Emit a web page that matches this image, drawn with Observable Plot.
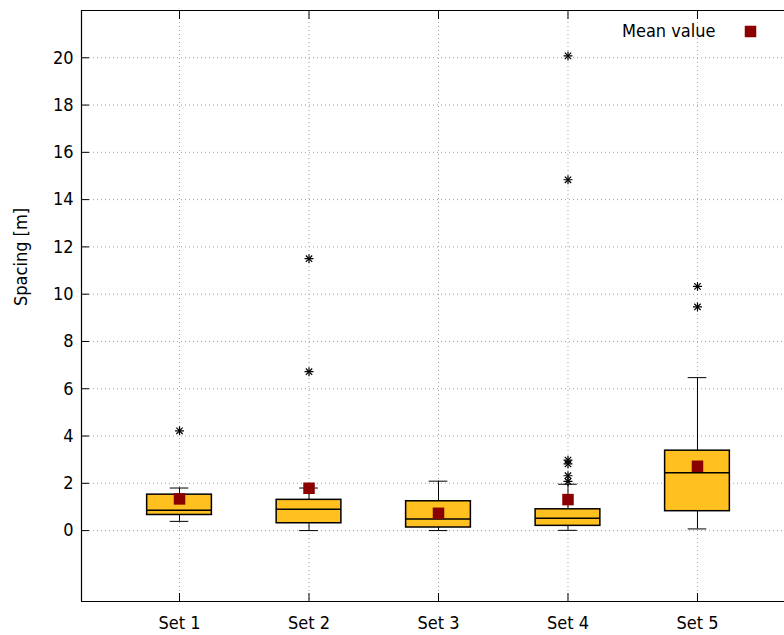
<!DOCTYPE html>
<html>
<head>
<meta charset="utf-8">
<script src="https://cdn.jsdelivr.net/npm/d3@7"></script>
<script src="https://cdn.jsdelivr.net/npm/@observablehq/plot@0.6"></script>
<style>
  html, body { margin: 0; padding: 0; background: #fff; }
  #chart svg { display: block; }
</style>
</head>
<body>
<div id="chart"></div>
<script>
// ---- data ----
const categories = ["Set 1", "Set 2", "Set 3", "Set 4", "Set 5"];
const positions = [1, 2, 3, 4, 5];
const q1 = [0.66, 0.31, 0.13, 0.20, 0.82];
const median = [0.86, 0.90, 0.49, 0.52, 2.45];
const q3 = [1.52, 1.30, 1.24, 0.90, 3.38];
const whiskerLow = [0.39, 0.00, 0.00, 0.01, 0.07];
const whiskerHigh = [1.80, 1.80, 2.09, 1.96, 6.47];
const means = [1.34, 1.79, 0.73, 1.31, 2.72];
const outlierSet = [1, 2, 2, 4, 4, 4, 4, 4, 4, 5, 5];
const outlierValue = [4.22, 11.5, 6.72, 20.08, 14.84, 2.98, 2.82, 2.32, 2.08, 10.33, 9.46];
const yTicks = [0, 2, 4, 6, 8, 10, 12, 14, 16, 18, 20];
const legendLabel = "Mean value";
const yLabel = "Spacing [m]";

// ---- layout / style ----
const xDomain = [0.243, 5.672];
const yDomain = [-3, 22];
const boxHalf = 0.25;
const capHalf = 0.072;
const boxFill = "#ffc020";
const meanColor = "#8b0000";
const gridColor = "#a0a0a0";
const font = "'DejaVu Sans Condensed', 'DejaVu Sans', sans-serif";

const boxes = positions.map((p, i) => ({
  p, cat: categories[i], q1: q1[i], med: median[i], q3: q3[i],
  lo: whiskerLow[i], hi: whiskerHigh[i], mean: means[i]
}));
const outliers = outlierSet.map((s, i) => ({p: s, v: outlierValue[i]}));

const chart = Plot.plot({
  width: 784,
  height: 635,
  marginLeft: 81,
  marginRight: 0,
  marginTop: 10,
  marginBottom: 34,
  style: {fontFamily: font, fontSize: "18px", color: "#000", background: "#fff"},
  x: {type: "linear", domain: xDomain, label: null},
  y: {type: "linear", domain: yDomain, label: null},
  marks: [
    // grid
    Plot.gridY(yTicks, {stroke: gridColor, strokeOpacity: 1, strokeWidth: 1, strokeDasharray: "1,3"}),
    Plot.gridX(positions, {stroke: gridColor, strokeOpacity: 1, strokeWidth: 1, strokeDasharray: "1,3"}),
    // whiskers
    Plot.ruleX(boxes, {x: "p", y1: "q3", y2: "hi", stroke: "#000", strokeWidth: 1}),
    Plot.ruleX(boxes, {x: "p", y1: "lo", y2: "q1", stroke: "#000", strokeWidth: 1}),
    Plot.ruleY(boxes, {y: "hi", x1: d => d.p - capHalf, x2: d => d.p + capHalf, stroke: "#000", strokeWidth: 1}),
    Plot.ruleY(boxes, {y: "lo", x1: d => d.p - capHalf, x2: d => d.p + capHalf, stroke: "#000", strokeWidth: 1}),
    // boxes
    Plot.rect(boxes, {x1: d => d.p - boxHalf, x2: d => d.p + boxHalf, y1: "q1", y2: "q3",
      fill: boxFill, stroke: "#000", strokeWidth: 1.5}),
    Plot.ruleY(boxes, {y: "med", x1: d => d.p - boxHalf, x2: d => d.p + boxHalf, stroke: "#000", strokeWidth: 1.5}),
    // outliers (gnuplot-style asterisk: plus + times)
    Plot.dot(outliers, {x: "p", y: "v", symbol: "plus", r: 3, stroke: "#000", strokeWidth: 1.2}),
    Plot.dot(outliers, {x: "p", y: "v", symbol: "times", r: 3, stroke: "#000", strokeWidth: 1.2}),
    // means
    Plot.dot(boxes, {x: "p", y: "mean", symbol: "square", r: 6.5, fill: meanColor, stroke: "none"}),
    // border (no right edge in the reference)
    Plot.ruleY([yDomain[0]], {stroke: "#000", strokeWidth: 1.2}),
    Plot.ruleY([yDomain[1]], {stroke: "#000", strokeWidth: 1.2}),
    Plot.ruleX([xDomain[0]], {stroke: "#000", strokeWidth: 1.2}),
    // inward ticks
    Plot.axisX(positions, {anchor: "bottom", tickSize: 8, dy: -8, tickFormat: () => "", stroke: "#000", label: null}),
    Plot.axisX(positions, {anchor: "top", tickSize: 8, dy: 8, tickFormat: () => "", stroke: "#000", label: null}),
    Plot.axisY(yTicks, {anchor: "left", tickSize: 8, dx: 8, tickFormat: () => "", stroke: "#000", label: null}),
    // labels
    Plot.axisX(positions, {anchor: "bottom", tickSize: 0, tickPadding: 15, tickFormat: d => categories[d - 1], label: null, fill: "#000"}),
    Plot.axisY(yTicks, {anchor: "left", tickSize: 0, tickPadding: 8, tickFormat: d => String(d), label: null, fill: "#000"}),
    Plot.text([yLabel], {frameAnchor: "left", dx: -60, rotate: -90, text: d => d, fill: "#000", fontSize: 18}),
    // legend
    Plot.text([legendLabel], {frameAnchor: "top-right", dx: -69, dy: 21, textAnchor: "end", lineAnchor: "middle", text: d => d, fill: "#000", fontSize: 18}),
    Plot.dot([legendLabel], {frameAnchor: "top-right", dx: -34, dy: 21, symbol: "square", r: 6.5, fill: meanColor})
  ]
});
document.getElementById("chart").appendChild(chart);
</script>
</body>
</html>
